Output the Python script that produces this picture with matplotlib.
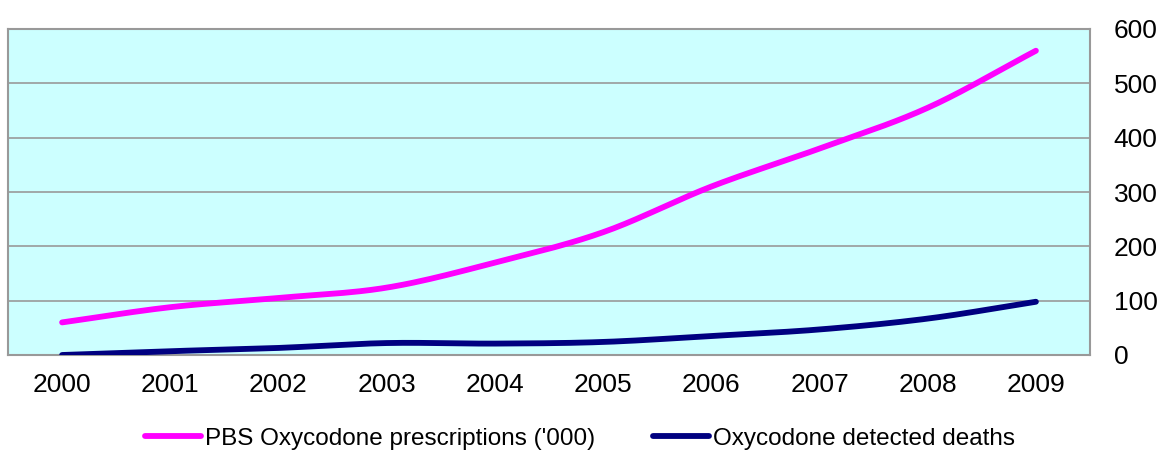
import numpy as np
import matplotlib
matplotlib.use('Agg')
import matplotlib.pyplot as plt

plt.rcParams['font.family'] = ['Liberation Sans', 'DejaVu Sans']

# ------------------------------------------------------------
# Data
# ------------------------------------------------------------
years = ['2000', '2001', '2002', '2003', '2004',
         '2005', '2006', '2007', '2008', '2009']
prescriptions = [60, 88, 105, 124, 170, 226, 310, 380, 455, 560]
deaths = [0, 7, 13, 22, 21, 24, 35, 47, 67, 98]
y_ticks = [0, 100, 200, 300, 400, 500, 600]

label_rx = "PBS Oxycodone prescriptions ('000)"
label_deaths = "Oxycodone detected deaths"


def smooth(y, n=20):
    # Catmull-Rom curve through the points, like Excel's smoothed line
    y = np.asarray(y, dtype=float)
    x = np.arange(len(y), dtype=float)
    px = np.concatenate([[2 * x[0] - x[1]], x, [2 * x[-1] - x[-2]]])
    py = np.concatenate([[2 * y[0] - y[1]], y, [2 * y[-1] - y[-2]]])
    xs, ys = [], []
    t = np.linspace(0, 1, n, endpoint=False)
    for i in range(1, len(px) - 2):
        for p, out in ((px, xs), (py, ys)):
            p0, p1, p2, p3 = p[i - 1], p[i], p[i + 1], p[i + 2]
            out.extend(0.5 * (2 * p1 + (-p0 + p2) * t
                              + (2 * p0 - 5 * p1 + 4 * p2 - p3) * t ** 2
                              + (-p0 + 3 * p1 - 3 * p2 + p3) * t ** 3))
    xs.append(x[-1])
    ys.append(y[-1])
    return np.array(xs), np.array(ys)


fig = plt.figure(figsize=(11.6, 4.5), dpi=100)
ax = fig.add_axes([8 / 1160, 95 / 450, 1082 / 1160, 326 / 450])
ax.set_facecolor('#CCFFFF')

xs, ys = smooth(prescriptions)
ax.plot(xs, ys, color='#FF00FF', lw=4.2, solid_capstyle='round',
        label=label_rx, zorder=3)
xs, ys = smooth(deaths)
ax.plot(xs, ys, color='#000080', lw=4.2, solid_capstyle='round',
        label=label_deaths, zorder=3)

ax.set_xlim(-0.5, len(years) - 0.5)
ax.set_xticks(range(len(years)))
ax.set_xticklabels(years)
ax.set_ylim(0, 600)
ax.set_yticks(y_ticks)
ax.yaxis.tick_right()
ax.tick_params(axis='both', length=0, labelsize=19, colors='black')
ax.tick_params(axis='x', pad=13)
ax.tick_params(axis='y', pad=17)
for lab in ax.get_yticklabels():
    lab.set_horizontalalignment('left')

ax.grid(axis='y', color='#999999', lw=1.2)
ax.set_axisbelow(True)
for s in ax.spines.values():
    s.set_color('#999999')
    s.set_linewidth(1.5)

fig.legend(loc='center', bbox_to_anchor=(0.5, 1 - 439 / 450), ncol=2,
           frameon=False, fontsize=17.5, handlelength=2.3,
           handletextpad=0.15, columnspacing=2.4)

fig.savefig('out.png', dpi=100)
